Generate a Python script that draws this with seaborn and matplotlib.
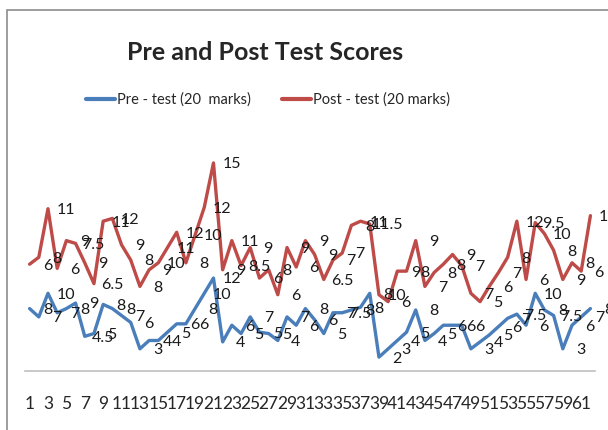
import numpy as np
import pandas as pd
import matplotlib
matplotlib.use("Agg")
import matplotlib.pyplot as plt
import seaborn as sns
from matplotlib.patches import Rectangle

# --- DATA ---
students = list(range(1, 63))

pre_scores = [4.5, 3.9, 5.6, 4.2, 4.5, 4.9, 2.5, 2.7, 4.8, 4.5,
              4.0, 3.5, 1.6, 2.2, 2.2, 2.8, 3.4, 3.4, 4.5, 5.6,
              6.7, 2.1, 3.3, 2.7, 3.9, 2.8, 2.7, 2.2, 3.9, 3.3,
              4.5, 3.7, 2.7, 4.2, 4.2, 4.4, 4.6, 5.6, 1.0, 1.6,
              2.2, 2.8, 4.4, 2.2, 2.7, 3.3, 3.3, 3.3, 1.6, 2.1,
              2.6, 3.2, 3.8, 4.1, 3.3, 5.6, 4.4, 4.0, 1.6, 3.3,
              3.9, 4.5]

post_scores = [7.7, 8.2, 11.7, 7.4, 9.4, 9.2, 7.8, 6.3, 10.8, 11.0,
               9.1, 8.0, 6.1, 7.3, 7.8, 8.9, 10.0, 7.8, 9.8, 11.8,
               15.0, 7.3, 9.4, 7.6, 8.9, 6.7, 7.3, 5.5, 8.9, 7.5,
               9.4, 8.4, 6.6, 8.0, 8.5, 10.5, 10.8, 10.6, 5.5, 5.0,
               7.2, 7.2, 9.4, 6.1, 7.1, 7.7, 8.4, 7.6, 5.6, 5.0,
               6.1, 7.1, 8.2, 10.8, 6.6, 10.7, 9.9, 8.7, 6.6, 7.8,
               7.2, 11.2]

pre_labels = ["8", "7", "10", "7", "8", "9", "4.5", "5", "8", "8",
              "7", "6", "3", "4", "4", "5", "6", "6", "8", "10",
              "12", "4", "6", "5", "7", "5", "5", "4", "7", "6",
              "8", "6", "5", "7", "7.5", "8", "8", "8", "2", "3",
              "4", "5", "8", "4", "5", "6", "6", "6", "3", "4",
              "5", "6", "7", "7.5", "6", "10", "8", "7.5", "3", "6",
              "7", "8"]

post_labels = ["6", "8", "11", "6", "9", "7.5", "9", "6.5", "11", "12",
               "9", "8", "8", "9", "10", "11", "12", "8", "10", "12",
               "15", "9", "11", "8.5", "9", "6", "8", "6", "9", "6",
               "9", "9", "6.5", "7", "7", "8", "11", "11.5", "10", "6",
               "9", "8", "9", "7", "8", "8", "9", "7", "7", "5",
               "6", "7", "8", "12", "6", "9.5", "10", "8", "9", "8",
               "6", "12"]

series_names = ["Pre - test (20  marks)", "Post - test (20 marks)"]
colors = ["#4A7EBB", "#BE4B48"]

# --- FIGURE ---
sns.set_style("white")
plt.rcParams['font.family'] = ['Lato', 'DejaVu Sans']

W, H = 608, 430
fig = plt.figure(figsize=(W / 100, H / 100), dpi=100)

# chart area border (cut off at right and bottom like the screenshot)
fig.patches.append(Rectangle((7 / W, -0.1), 1.2, 1 - 10 / H + 0.1,
                             transform=fig.transFigure, fill=False,
                             edgecolor="#8c8c8c", linewidth=1.2))

ax = fig.add_axes([25 / W, (H - 371) / H, 570 / W, (371 - 93.6) / H])

df = pd.DataFrame({
    "student": students * 2,
    "score": pre_scores + post_scores,
    "series": [series_names[0]] * len(students) + [series_names[1]] * len(students),
})

sns.lineplot(data=df, x="student", y="score", hue="series",
             hue_order=series_names, palette=colors, linewidth=2.4,
             ax=ax, legend=True)

# data labels to the right of each point
for vals, labs in [(pre_scores, pre_labels), (post_scores, post_labels)]:
    for x, y, t in zip(students, vals, labs):
        ax.annotate(t, (x, y), xytext=(13, -1), textcoords="offset points",
                    ha="center", va="center", fontsize=11.5, color="#1a1a1a",
                    annotation_clip=False)

ax.set_xlim(0.5, 62.5)
ax.set_ylim(0, 20)
ax.set_xticks(students[::2])
ax.set_xticklabels([str(s) for s in students[::2]], fontsize=12.5)
ax.tick_params(axis="x", length=0, pad=18)
ax.set_yticks([])
ax.set_xlabel("")
ax.set_ylabel("")
for side in ["left", "right", "top"]:
    ax.spines[side].set_visible(False)
ax.spines["bottom"].set_color("#bfbfbf")
ax.spines["bottom"].set_linewidth(1.2)

fig.text(265 / W, 1 - 52 / H, "Pre and Post Test Scores", ha="center", va="center",
         fontsize=18, fontweight="bold")

handles, labels = ax.get_legend_handles_labels()
ax.legend(handles, labels, loc="center", bbox_to_anchor=(268 / W, 1 - 100 / H),
          bbox_transform=fig.transFigure, ncol=2, frameon=False, fontsize=10.5,
          handlelength=2.0, handletextpad=0.15, columnspacing=2.1)
for line in ax.get_legend().get_lines():
    line.set_linewidth(3)

fig.savefig("out.png", dpi=100)
